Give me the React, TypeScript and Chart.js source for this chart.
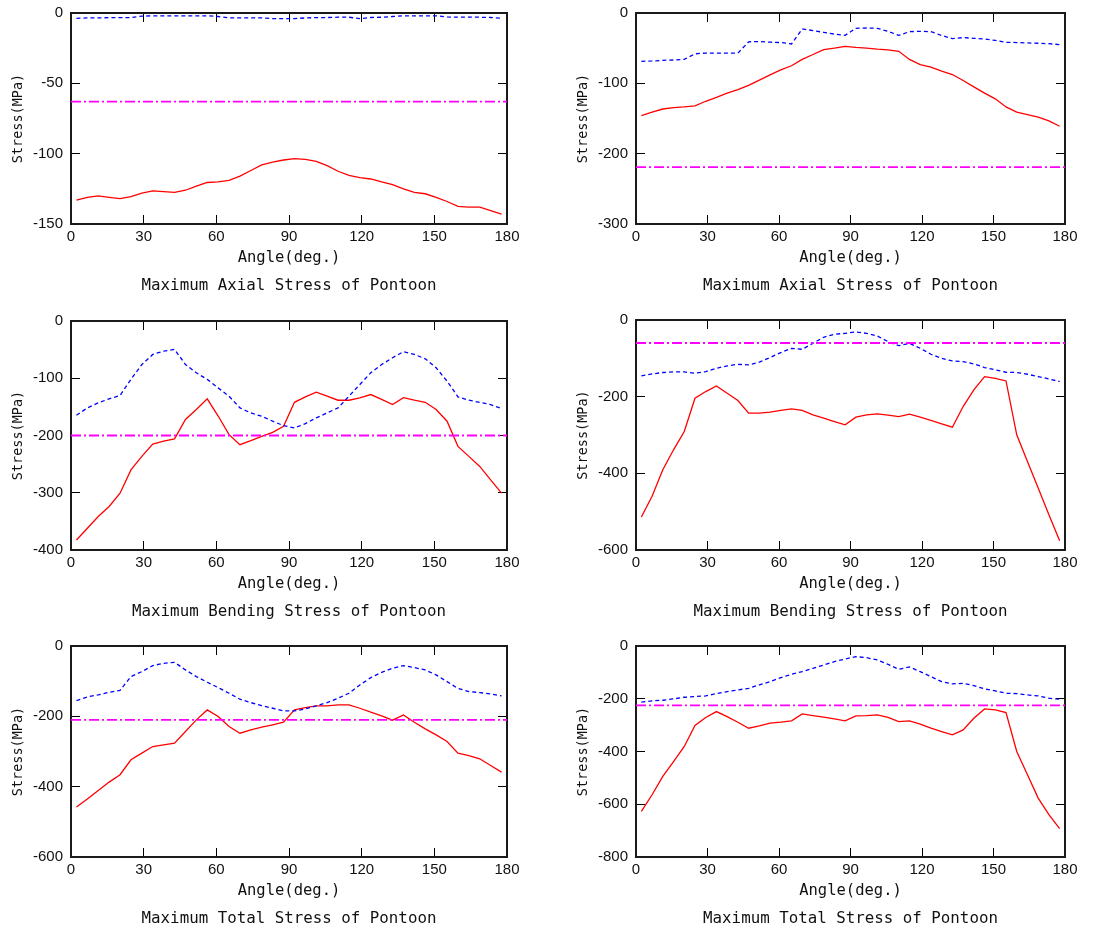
import React, { useEffect, useRef } from "react";
import { Chart, registerables } from "chart.js";
Chart.register(...registerables);

// Heading angles (deg.)
const ANGLES = [2.25, 6.75, 11.25, 15.75, 20.25, 24.75, 29.25, 33.75, 38.25, 42.75, 47.25, 51.75, 56.25, 60.75, 65.25, 69.75, 74.25, 78.75, 83.25, 87.75, 92.25, 96.75, 101.25, 105.75, 110.25, 114.75, 119.25, 123.75, 128.25, 132.75, 137.25, 141.75, 146.25, 150.75, 155.25, 159.75, 164.25, 168.75, 173.25, 177.75];
const X_RANGE = [0, 180];
const X_STEP = 30;

// Panel 1: Maximum Axial Stress (left)
const AXIAL_A_SOLID = [-133, -131, -130, -131, -132, -130.5, -128, -126.5, -127, -127.5, -126, -123, -120.5, -120, -119, -116, -112, -108, -106, -104.5, -103.5, -104, -105.5, -108.5, -112.5, -115.5, -117, -118, -120, -122, -125, -127.5, -128.5, -131, -134, -137.5, -138, -138, -140.5, -143];
const AXIAL_A_DASHED = [-3.8, -3.5, -3.5, -3.3, -3.3, -3.3, -2.2, -2, -2, -2, -2, -2, -2, -2.5, -3.5, -3.5, -3.5, -3.5, -4, -4, -4, -3.5, -3.3, -3.2, -3, -3, -4, -3.2, -3, -2.5, -2, -2, -2, -2, -2.8, -3, -3, -3, -3.2, -3.8];
const AXIAL_A_LIMIT = -63;

// Panel 2: Maximum Axial Stress (right)
const AXIAL_B_SOLID = [-146, -141, -136.5, -134.5, -133.5, -132, -125.5, -120, -114, -109, -103, -95.5, -88, -81, -75, -66, -59, -52, -50, -47.5, -49, -50, -51.5, -52.5, -54.5, -66, -73.5, -77, -82.5, -87.5, -96, -105, -114, -122, -133.5, -141, -144.5, -148, -153.5, -161];
const AXIAL_B_DASHED = [-68.7, -68.2, -67.3, -66.8, -66, -58, -57, -57, -57, -57, -41, -40.5, -41.5, -42, -44, -22.7, -25, -27.5, -30, -31.8, -21.8, -21.3, -21.8, -26, -31.8, -26.5, -26, -26.5, -32, -36.5, -35, -36, -37, -39, -41.7, -42, -42.6, -43, -43.6, -45];
const AXIAL_B_LIMIT = -219;

// Panel 3: Maximum Bending Stress (left)
const BENDING_A_SOLID = [-382.5, -362, -341.6, -324, -300.7, -260, -236.5, -215, -210, -206, -172, -154.7, -136, -166, -198.5, -216, -209, -201.5, -194.5, -184, -142, -132.5, -124.4, -131.4, -138.4, -138.4, -134.3, -128.5, -137, -146, -134, -138.4, -142, -154.7, -175, -219, -236.5, -254, -277.4, -300.7];
const BENDING_A_DASHED = [-164.7, -151.8, -143, -136, -130, -102, -76, -58.4, -52.6, -49.6, -76, -90.5, -102, -116.8, -131.4, -151.8, -160.6, -166.4, -175, -182.8, -186.9, -179.3, -169.3, -160.6, -151.8, -131.4, -111, -90.5, -76, -64.2, -53.7, -58.4, -66, -81.8, -105, -132.5, -138.4, -142, -146, -153];
const BENDING_A_LIMIT = -200;

// Panel 4: Maximum Bending Stress (right)
const BENDING_B_SOLID = [-514, -460, -390.6, -338.6, -290.9, -204, -186.7, -172, -191, -210, -243, -243, -240.5, -236, -232, -236, -247.5, -256, -265, -273.5, -253.5, -247.5, -245, -248.3, -251.8, -245.7, -253.5, -262, -271, -279.6, -225.8, -182.3, -147.6, -152, -159, -299.6, -369, -438.5, -508, -575.7];
const BENDING_B_DASHED = [-146, -140.8, -137, -135.5, -135.5, -139, -134.6, -126, -119.8, -115.5, -117, -110, -98, -85, -73.8, -76.4, -60.8, -45, -37.3, -34.7, -31.3, -34.7, -41.7, -56.4, -66.9, -60.8, -73.8, -89.4, -99.8, -106.8, -108.5, -114.6, -124, -130, -136.3, -137, -141.5, -147.6, -153.7, -160.6];
const BENDING_B_LIMIT = -60;

// Panel 5: Maximum Total Stress (left)
const TOTAL_A_SOLID = [-458, -435, -410.7, -387, -366, -323.6, -304.7, -285.8, -281, -276.3, -243, -210, -181.7, -200.6, -229, -248, -238.4, -231, -224, -216.7, -181.7, -175, -170.3, -170.3, -167.5, -167.5, -177, -188.3, -198.7, -211, -196, -216.7, -235.6, -252.7, -271.6, -304.7, -312, -320.8, -339.7, -358.7];
const TOTAL_A_DASHED = [-155, -144.8, -139, -131.5, -126, -87, -72.9, -55.8, -49.2, -46.4, -68, -87, -103, -118.3, -134.4, -151.4, -161, -169.4, -177, -184.5, -184.5, -178.9, -170.3, -161, -148.6, -134.4, -110.7, -90, -74.8, -63.4, -55.8, -61.5, -68, -82.3, -101.3, -120.7, -129.6, -132.5, -136.3, -142];
const TOTAL_A_LIMIT = -210;

// Panel 6: Maximum Total Stress (right)
const TOTAL_B_SOLID = [-627, -564, -494.6, -438, -381, -301.6, -271, -248.6, -267.5, -289, -311.7, -303, -292.7, -289, -284, -257.4, -263.7, -270, -276.3, -284, -265, -263.7, -261, -271, -286.4, -284, -296.5, -311.7, -324.3, -337, -318, -273.8, -238.5, -242.3, -252.4, -400, -488.3, -576.7, -639.7, -692.7];
const TOTAL_B_DASHED = [-213, -208, -205.7, -200.6, -194.3, -191.8, -189.3, -180.4, -172.9, -166.6, -160.3, -147.6, -135, -120, -107.3, -97.2, -84.5, -72, -59.3, -49.2, -40.4, -44.2, -53, -69.4, -88.3, -79.5, -97.2, -116, -135, -143.8, -141.3, -150, -162.8, -170.3, -179.2, -180.4, -185.5, -189.3, -198, -202];
const TOTAL_B_LIMIT = -225;

const CAPTIONS = ["Maximum Axial Stress of Pontoon", "Maximum Bending Stress of Pontoon", "Maximum Total Stress of Pontoon"];
const X_TITLE = "Angle(deg.)";
const Y_TITLE = "Stress(MPa)";

const Y_MINS = [-150, -300, -400, -600, -600, -800];
const Y_STEPS = [50, 100, 100, 200, 200, 200];

type PanelData = { solid: number[]; dashed: number[]; limit: number; caption: string; yMin: number; yStep: number };

const PANELS: PanelData[] = [
  { solid: AXIAL_A_SOLID, dashed: AXIAL_A_DASHED, limit: AXIAL_A_LIMIT, caption: CAPTIONS[0], yMin: Y_MINS[0], yStep: Y_STEPS[0] },
  { solid: AXIAL_B_SOLID, dashed: AXIAL_B_DASHED, limit: AXIAL_B_LIMIT, caption: CAPTIONS[0], yMin: Y_MINS[1], yStep: Y_STEPS[1] },
  { solid: BENDING_A_SOLID, dashed: BENDING_A_DASHED, limit: BENDING_A_LIMIT, caption: CAPTIONS[1], yMin: Y_MINS[2], yStep: Y_STEPS[2] },
  { solid: BENDING_B_SOLID, dashed: BENDING_B_DASHED, limit: BENDING_B_LIMIT, caption: CAPTIONS[1], yMin: Y_MINS[3], yStep: Y_STEPS[3] },
  { solid: TOTAL_A_SOLID, dashed: TOTAL_A_DASHED, limit: TOTAL_A_LIMIT, caption: CAPTIONS[2], yMin: Y_MINS[4], yStep: Y_STEPS[4] },
  { solid: TOTAL_B_SOLID, dashed: TOTAL_B_DASHED, limit: TOTAL_B_LIMIT, caption: CAPTIONS[2], yMin: Y_MINS[5], yStep: Y_STEPS[5] },
];

const Y_AXIS_W = 71;
const PAD_TOP = 28;
const PAD_RIGHT = 30;
const X_AXIS_H = 46;
const CAPTION_H = 30;

// Layout (page px): plot left/top, plot width/height
const BOXES = [
  { pl: 71, pt: 13, pw: 436, ph: 211 },
  { pl: 636, pt: 13, pw: 429, ph: 211 },
  { pl: 71, pt: 321, pw: 436, ph: 229 },
  { pl: 636, pt: 320, pw: 429, ph: 230 },
  { pl: 71, pt: 646, pw: 436, ph: 211 },
  { pl: 636, pt: 646, pw: 429, ph: 211 },
];

const MONO = "'DejaVu Sans Mono', monospace";
const TICK_FONT = { family: "'Liberation Sans', Arial, sans-serif", size: 15 };
const TEXT_COLOR = "#111";

function Panel({ data, box }: { data: PanelData; box: typeof BOXES[number] }) {
  const ref = useRef<HTMLCanvasElement>(null);
  const w = Y_AXIS_W + box.pw + PAD_RIGHT;
  const h = PAD_TOP + box.ph + X_AXIS_H + CAPTION_H;
  const left = box.pl - Y_AXIS_W;
  const top = box.pt - PAD_TOP;

  useEffect(() => {
    const grid = { drawOnChartArea: false, drawTicks: true, tickLength: -9, color: "#000", lineWidth: 1 };
    const border = { display: true, color: "#1a1a1a", width: 2 };
    const toXY = (arr: number[]) => ANGLES.map((a, i) => ({ x: a, y: arr[i] }));
    const chart = new Chart(ref.current!, {
      type: "line",
      data: {
        datasets: [
          {
            data: X_RANGE.map((x) => ({ x, y: data.limit })),
            borderColor: "#ff00ff",
            borderWidth: 1.8,
            borderDash: [10, 3, 2, 3],
            pointRadius: 0,
            tension: 0,
          },
          {
            data: toXY(data.dashed),
            borderColor: "#0000ff",
            borderWidth: 1.3,
            borderDash: [4, 3],
            pointRadius: 0,
            tension: 0,
          },
          {
            data: toXY(data.solid),
            borderColor: "#ff0000",
            borderWidth: 1.3,
            pointRadius: 0,
            tension: 0,
          },
        ],
      },
      options: {
        responsive: false,
        animation: false,
        parsing: false as any,
        layout: { padding: { top: PAD_TOP, left: 0, right: PAD_RIGHT, bottom: 0 } },
        plugins: {
          legend: { display: false },
          tooltip: { enabled: false },
          title: {
            display: true,
            position: "bottom",
            fullSize: false,
            text: data.caption,
            color: TEXT_COLOR,
            font: { family: MONO, size: 15.8, weight: "normal" as any },
            padding: { top: 6.5, bottom: CAPTION_H - 6.5 - 15.8 * 1.2 },
          },
        },
        scales: {
          x: {
            type: "linear",
            position: "bottom",
            min: X_RANGE[0],
            max: X_RANGE[1],
            ticks: { stepSize: X_STEP, padding: 13, color: TEXT_COLOR, font: TICK_FONT, maxRotation: 0, autoSkip: false },
            grid,
            border,
            title: { display: true, text: X_TITLE, color: TEXT_COLOR, font: { family: MONO, size: 15.5 }, padding: { top: 0, bottom: 2.7 } },
            afterFit: (s: any) => { s.height = X_AXIS_H; },
          },
          xTop: {
            type: "linear",
            position: "top",
            min: X_RANGE[0],
            max: X_RANGE[1],
            ticks: { stepSize: X_STEP, display: false },
            grid,
            border,
            afterFit: (s: any) => { s.height = 0; },
          },
          y: {
            type: "linear",
            position: "left",
            min: data.yMin,
            max: 0,
            ticks: { stepSize: data.yStep, padding: 17, color: TEXT_COLOR, font: TICK_FONT },
            grid,
            border,
            title: { display: true, text: Y_TITLE, color: TEXT_COLOR, font: { family: MONO, size: 13.5 }, padding: { top: 10, bottom: 0 } },
            afterFit: (s: any) => { s.width = Y_AXIS_W; },
          },
          yRight: {
            type: "linear",
            position: "right",
            min: data.yMin,
            max: 0,
            ticks: { stepSize: data.yStep, display: false },
            grid,
            border,
            afterFit: (s: any) => { s.width = 0; },
          },
        },
      } as any,
    });
    return () => chart.destroy();
  }, []);

  return (
    <canvas
      ref={ref}
      width={w}
      height={h}
      style={{ position: "absolute", left, top, width: w, height: h }}
    />
  );
}

export default function App() {
  return (
    <div style={{ position: "absolute", left: 0, top: 0, width: 1093, height: 932, overflow: "hidden", background: "#fff" }}>
      {PANELS.map((p, i) => (
        <Panel key={i} data={p} box={BOXES[i]} />
      ))}
    </div>
  );
}
